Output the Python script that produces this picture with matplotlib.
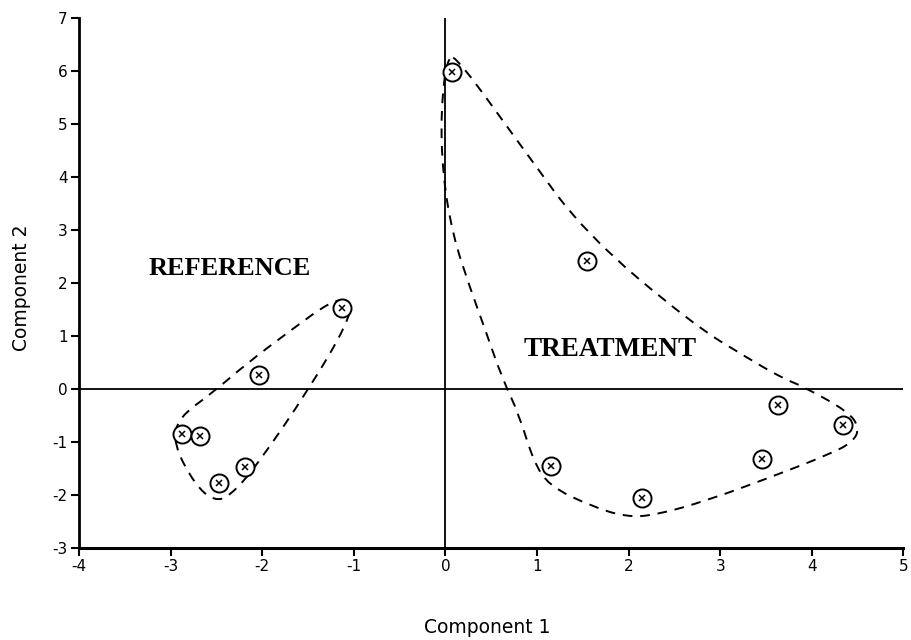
import matplotlib
matplotlib.use('Agg')
import matplotlib.pyplot as plt
from matplotlib.path import Path
from matplotlib.patches import PathPatch

plt.rcParams['axes.unicode_minus'] = False

#%% scores

ref_x = [-1.13, -2.03, -2.87, -2.68, -2.47, -2.19]
ref_y = [1.53, 0.26, -0.85, -0.89, -1.77, -1.47]

trt_x = [0.07, 1.55, 3.63, 4.34, 3.46, 1.15, 2.15]
trt_y = [5.98, 2.42, -0.30, -0.68, -1.32, -1.45, -2.06]

# hand-drawn group outlines (dashed)
ref_hull_x = [-1.02, -1.07, -1.48, -2.06, -2.35, -2.52, -2.73, -2.97, -2.92, -2.54, -2.16, -1.70, -1.23]
ref_hull_y = [1.68, 1.23, 0.02, -1.45, -2.02, -2.12, -1.82, -1.04, -0.55, -0.07, 0.49, 1.09, 1.68]

trt_hull_x = [0.15, 0.84, 1.53, 2.70, 3.30, 3.68, 3.90, 4.40, 4.52, 4.45, 4.20, 3.50, 2.85,
              2.30, 1.98, 1.60, 1.13, 0.96, 0.80, 0.62, 0.44, 0.27, 0.08, -0.03, -0.05, 0.02]
trt_hull_y = [6.20, 4.55, 2.92, 1.22, 0.58, 0.20, 0.05, -0.43, -0.74, -1.00, -1.23, -1.70, -2.11,
              -2.38, -2.42, -2.22, -1.83, -1.36, -0.47, 0.20, 1.09, 1.90, 2.90, 4.05, 5.24, 6.30]

x_ticks = [-4, -3, -2, -1, 0, 1, 2, 3, 4, 5]
y_ticks = [-3, -2, -1, 0, 1, 2, 3, 4, 5, 6, 7]


def smooth_loop(xs, ys):
    # closed quadratic-bezier loop through the midpoints of the outline
    pts = list(zip(xs, ys))
    n = len(pts)
    mids = [((pts[i][0] + pts[(i + 1) % n][0]) / 2, (pts[i][1] + pts[(i + 1) % n][1]) / 2) for i in range(n)]
    verts = [mids[-1]]
    codes = [Path.MOVETO]
    for i in range(n):
        verts += [pts[i], mids[i]]
        codes += [Path.CURVE3, Path.CURVE3]
    return Path(verts, codes)


#%% plot

fig = plt.figure(figsize=(9.12, 6.40), dpi=100)
ax = fig.add_axes([0.0866, 0.144, 0.904, 0.828])

ax.set_xlim(-4, 5)
ax.set_ylim(-3, 7)

# zero lines
ax.axhline(0, color='black', lw=1.3, zorder=1)
ax.axvline(0, color='black', lw=1.3, zorder=1)

for hx, hy in [(ref_hull_x, ref_hull_y), (trt_hull_x, trt_hull_y)]:
    ax.add_patch(PathPatch(smooth_loop(hx, hy), fill=False, edgecolor='black',
                           lw=1.4, linestyle=(0, (5, 4)), zorder=2))

for xs, ys in [(ref_x, ref_y), (trt_x, trt_y)]:
    ax.plot(xs, ys, 'o', ms=13, mfc='white', mec='black', mew=1.4, zorder=3)
    ax.plot(xs, ys, 'x', ms=5, color='black', mew=1.1, zorder=4)

ax.text(-2.36, 2.28, 'REFERENCE', family='Liberation Serif', weight='bold',
        fontsize=19, ha='center', va='center')
ax.text(1.8, 0.75, 'TREATMENT', family='Liberation Serif', weight='bold',
        fontsize=19.5, ha='center', va='center')

ax.set_xticks(x_ticks)
ax.set_yticks(y_ticks)
ax.tick_params(direction='out', length=6, width=1.5, labelsize=11, pad=2)
for s in ['top', 'right']:
    ax.spines[s].set_visible(False)
ax.spines['left'].set_linewidth(2)
ax.spines['bottom'].set_linewidth(2.2)

fig.text(0.534, 0.019, 'Component 1', ha='center', va='center', fontsize=13.5)
fig.text(0.024, 0.55, 'Component 2', ha='center', va='center', rotation=90, fontsize=13.5)

plt.savefig('out.png', dpi=100)
